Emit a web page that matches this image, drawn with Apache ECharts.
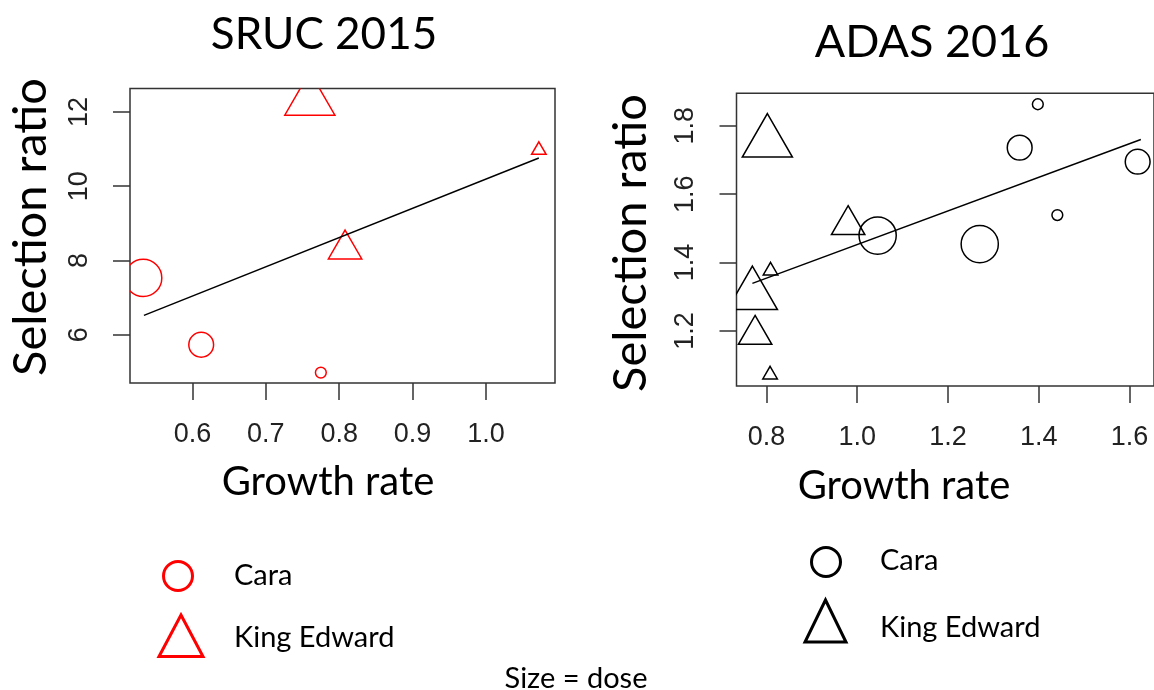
<!DOCTYPE html>
<html><head><meta charset="utf-8">
<script src="https://cdn.jsdelivr.net/npm/echarts@6.0.0/dist/echarts.min.js"></script>
<style>html,body{margin:0;padding:0;background:#fff}#c{width:1154px;height:690px}</style>
</head><body><div id="c"></div>
<script>
// ---- SRUC 2015 ----
const srucCaraX = [0.533, 0.612, 0.775];
const srucCaraY = [7.53, 5.73, 4.98];
const srucCaraDose = [3, 2, 1];
const srucKingX = [0.760, 0.808, 1.072];
const srucKingY = [12.30, 8.30, 10.97];
const srucKingDose = [3, 2, 1];
const srucFitX = [0.534, 1.072];
const srucFitY = [6.52, 10.76];
const srucXTicks = [0.6, 0.7, 0.8, 0.9, 1.0];
const srucYTicks = [6, 8, 10, 12];

// ---- ADAS 2016 ----
const adasCaraX = [1.398, 1.358, 1.618, 1.441, 1.045, 1.270];
const adasCaraY = [1.863, 1.736, 1.695, 1.539, 1.479, 1.454];
const adasCaraDose = [1, 2, 2, 1, 3, 3];
const adasKingX = [0.802, 0.980, 0.769, 0.809, 0.775, 0.808];
const adasKingY = [1.751, 1.510, 1.305, 1.376, 1.189, 1.072];
const adasKingDose = [3, 2, 3, 1, 2, 1];
const adasFitX = [0.769, 1.625];
const adasFitY = [1.339, 1.760];
const adasXTicks = [0.8, 1.0, 1.2, 1.4, 1.6];
const adasYTicks = [1.2, 1.4, 1.6, 1.8];

const varieties = ['Cara', 'King Edward'];
const titles = ['SRUC 2015', 'ADAS 2016'];

// marker radius (px) per dose level ("Size = dose")
const doseRadius = {1: 5.4, 2: 12.4, 3: 18.6};

const chart = echarts.init(document.getElementById('c'), null, {renderer: 'canvas'});

function markerSeries(name, xs, ys, doses, shape, color, idx) {
  return {
    type: 'custom', name: name, xAxisIndex: idx, yAxisIndex: idx, clip: true,
    encode: {x: 0, y: 1},
    data: xs.map((x, i) => [x, ys[i], doses[i]]),
    renderItem: function (params, api) {
      const p = api.coord([api.value(0), api.value(1)]);
      const r = doseRadius[api.value(2)];
      const style = {fill: 'none', stroke: color, lineWidth: 1.5};
      if (shape === 'circle') {
        return {type: 'circle', shape: {cx: p[0], cy: p[1], r: r}, style: style};
      }
      return {type: 'polygon', shape: {points: [
        [p[0], p[1] - 1.555 * r],
        [p[0] + 1.347 * r, p[1] + 0.778 * r],
        [p[0] - 1.347 * r, p[1] + 0.778 * r]]}, style: style};
    }
  };
}
function fitSeries(xs, ys, idx) {
  return {type: 'line', xAxisIndex: idx, yAxisIndex: idx, symbol: 'none', silent: true,
    data: xs.map((x, i) => [x, ys[i]]), lineStyle: {color: '#000', width: 1.5}};
}
const tickFont = {fontSize: 27, fontFamily: 'Liberation Sans', color: '#222'};
function xAxis(idx, min, max, ticks) {
  return {gridIndex: idx, type: 'value', min: min, max: max,
    axisLine: {show: false, onZero: false}, splitLine: {show: false},
    axisTick: {show: true, length: 17, customValues: ticks, lineStyle: {color: '#333', width: 1.5}},
    axisLabel: Object.assign({customValues: ticks, margin: 38, formatter: v => v.toFixed(1)}, tickFont)};
}
function yAxis(idx, min, max, ticks, dec) {
  return {gridIndex: idx, type: 'value', min: min, max: max,
    axisLine: {show: false, onZero: false}, splitLine: {show: false},
    axisTick: {show: true, length: 17, customValues: ticks, lineStyle: {color: '#333', width: 1.5}},
    axisLabel: Object.assign({customValues: ticks, margin: 37, rotate: 90, formatter: v => v.toFixed(dec)}, tickFont)};
}
const txt = (t, x, y, size, extra) => Object.assign({type: 'text', x: x, y: y,
  style: {text: t, fontSize: size, fontFamily: 'Lato', fill: '#000', align: 'left', verticalAlign: 'middle'}}, extra || {});

chart.setOption({
  animation: false,
  backgroundColor: '#fff',
  title: [
    {text: titles[0], left: 324, top: 13, padding: 0, textAlign: 'center',
     textStyle: {fontFamily: 'Lato', fontSize: 44, fontWeight: 'normal', color: '#000'}},
    {text: titles[1], left: 932, top: 20, padding: 0, textAlign: 'center',
     textStyle: {fontFamily: 'Lato', fontSize: 45, fontWeight: 'normal', color: '#000'}}
  ],
  grid: [
    {left: 130, top: 88.5, width: 425, height: 294.5, show: true, borderColor: '#333', borderWidth: 1.5, containLabel: false},
    {left: 736.5, top: 93.3, width: 422.6, height: 292.7, show: true, borderColor: '#333', borderWidth: 1.5, containLabel: false}
  ],
  xAxis: [xAxis(0, 0.515, 1.094, srucXTicks), xAxis(1, 0.734, 1.654, adasXTicks)],
  yAxis: [yAxis(0, 4.70, 12.63, srucYTicks, 0), yAxis(1, 1.039, 1.895, adasYTicks, 1)],
  series: [
    markerSeries(varieties[0], srucCaraX, srucCaraY, srucCaraDose, 'circle', '#ff0000', 0),
    markerSeries(varieties[1], srucKingX, srucKingY, srucKingDose, 'triangle', '#ff0000', 0),
    fitSeries(srucFitX, srucFitY, 0),
    markerSeries(varieties[0], adasCaraX, adasCaraY, adasCaraDose, 'circle', '#000', 1),
    markerSeries(varieties[1], adasKingX, adasKingY, adasKingDose, 'triangle', '#000', 1),
    fitSeries(adasFitX, adasFitY, 1)
  ],
  graphic: [
    // axis titles
    txt('Selection ratio', 31, 227, 46, {rotation: Math.PI / 2, style: {text: 'Selection ratio', fontSize: 47, fontFamily: 'Lato', fill: '#000', align: 'center', verticalAlign: 'middle'}}),
    txt('Selection ratio', 631, 243, 46, {rotation: Math.PI / 2, style: {text: 'Selection ratio', fontSize: 47, fontFamily: 'Lato', fill: '#000', align: 'center', verticalAlign: 'middle'}}),
    txt('Growth rate', 328, 482, 40, {style: {text: 'Growth rate', fontSize: 40, fontFamily: 'Lato', fill: '#000', align: 'center', verticalAlign: 'middle'}}),
    txt('Growth rate', 904, 486, 40, {style: {text: 'Growth rate', fontSize: 40, fontFamily: 'Lato', fill: '#000', align: 'center', verticalAlign: 'middle'}}),
    // left legend
    {type: 'circle', shape: {cx: 178, cy: 576, r: 14.5}, style: {fill: 'none', stroke: '#ff0000', lineWidth: 3}},
    {type: 'polygon', shape: {points: [[181, 615], [203, 656.5], [159, 656.5]]}, style: {fill: 'none', stroke: '#ff0000', lineWidth: 3}},
    txt(varieties[0], 234, 576, 29),
    txt(varieties[1], 234, 638, 29),
    // right legend
    {type: 'circle', shape: {cx: 826, cy: 562, r: 14.5}, style: {fill: 'none', stroke: '#000', lineWidth: 3}},
    {type: 'polygon', shape: {points: [[825.5, 600], [846, 642], [805, 642]]}, style: {fill: 'none', stroke: '#000', lineWidth: 3}},
    txt(varieties[0], 880, 561, 29),
    txt(varieties[1], 880, 627.5, 29),
    // note
    txt('Size = dose', 576, 679, 29, {style: {text: 'Size = dose', fontSize: 29, fontFamily: 'Lato', fill: '#000', align: 'center', verticalAlign: 'middle'}})
  ]
});
</script>
</body></html>
